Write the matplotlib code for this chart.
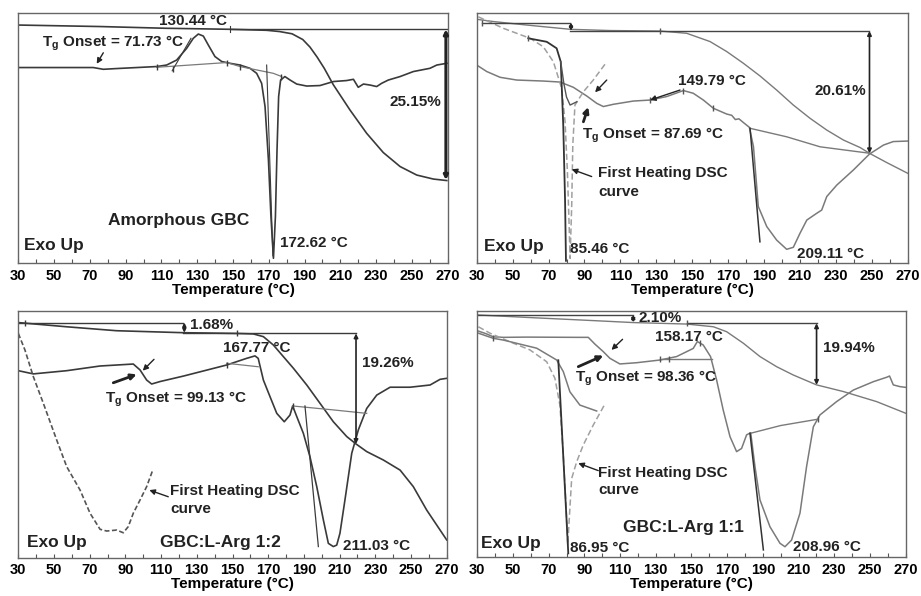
import matplotlib
matplotlib.use('Agg')
import matplotlib.pyplot as plt

plt.rcParams['font.family'] = ['Liberation Sans', 'DejaVu Sans']
plt.rcParams['font.weight'] = 'bold'
plt.rcParams['mathtext.fontset'] = 'custom'
plt.rcParams['mathtext.rm'] = 'Liberation Sans:bold'

# ---- panel 1: amorphous GBC ----
p1_tga_t = [30, 75.7, 112.9, 148.3, 168.8, 176, 183, 189, 193, 197, 201, 206, 215.4, 224.7, 234.0, 243.4, 252.7, 262.0, 269.5]
p1_tga_y = [95.3, 94.7, 94.0, 93.6, 93.2, 92.7, 91.8, 89.5, 86.5, 82.5, 78, 71.5, 61.3, 52.0, 44.3, 38.7, 35.3, 33.7, 33.1]
p1_dsc_t = [30, 57, 71.9, 77.5, 85, 107.3, 112.9, 118.5, 124.1, 127.8, 130.6, 133.4, 136.2, 139.9, 143.7, 148.3,
            153.9, 159.5, 163.2, 166, 167.9, 169.8, 171.2, 172.6, 173.7, 174.6, 175.5, 176.6, 179, 181.9, 185.6,
            191.2, 198.6, 206.1, 213.5, 217.3, 220, 222.9, 226.6, 230.3, 233.1, 236.8, 243.4, 250.8, 260.1, 263.9, 269.5]
p1_dsc_y = [78.3, 78.3, 78.3, 77.6, 77.9, 78.7, 79.3, 81.3, 86, 90, 91.7, 90.9, 87.3, 82.7, 80.7, 80,
            79.3, 78, 76, 72, 62.7, 41.3, 18.7, 2, 18.7, 45.3, 66.7, 73.3, 74.7, 73.3, 71.7,
            70.9, 71.1, 72.7, 73.1, 73.6, 70.4, 71.7, 71.3, 70.7, 72, 73.3, 74.7, 76.7, 78, 79.3, 80]
p1_base_t = [107.3, 146.5, 153.9, 172.5, 177.2]
p1_base_y = [78.4, 80.3, 78.7, 76, 74.7]

# ---- panel 2 ----
p2_tga_t = [30, 39.3, 57.8, 82, 104.2, 132.1, 146.9, 159.9, 169.2, 178.5, 187.8, 197, 206.3, 215.6, 224.9, 234.2, 243.5, 248.7, 258.3, 270]
p2_tga_y = [97.6, 96.7, 95.3, 93.6, 93.1, 92.9, 92, 88.7, 84.7, 80, 74.9, 69.3, 63.3, 58, 53.3, 49.3, 46.3, 44, 40.3, 36]
p2_dsc_t = [30, 35.6, 43, 52.3, 67.1, 76.4, 83.8, 91.3, 96.8, 100.5, 106.1, 117.2, 126.5, 135.8, 145.1, 150.6, 156.2, 161.8,
            169.2, 172, 174, 176, 178.5, 181.8, 184.1, 186.8, 191.5, 197, 202.6, 206.3, 210, 213.8, 219.3, 222.1, 224.9,
            230.5, 239.7, 248.7, 256.5, 262, 270]
p2_dsc_y = [79.3, 76.7, 74.4, 73.3, 72.9, 72.5, 70.4, 66.9, 64, 62.7, 63.6, 64.9, 65.3, 66.7, 69.1, 68, 65.3, 62,
            59.7, 59.2, 57.5, 57.8, 56.3, 54.4, 46.7, 22.7, 14.7, 9.3, 5.6, 6.4, 12, 17.3, 20, 21.3, 26.7,
            31.3, 37.3, 43.7, 47.3, 48.7, 48.9]
p2_first_t = [30.9, 44.8, 59.7, 67.1, 72.7, 77.3, 79.2, 80.5, 81.4, 82, 82.9, 83.5, 84.7, 89.4, 94.9, 101.4]
p2_first_y = [98.6, 94, 90, 86.6, 80.6, 70, 56.6, 36.6, 16.6, 2, 23.3, 47.3, 63.3, 68.6, 73.3, 79.6]
p2_solid_t = [58.7, 69, 74.5, 76.8, 78.2, 79.2, 79.7]
p2_solid_y = [90, 88.6, 86, 80.6, 55, 25, 1]
p2_shoulder_t = [76.8, 78.5, 80, 82, 85.7]
p2_shoulder_y = [80.6, 72, 66.5, 63.3, 64.6]
p2_base_t = [182.2, 202.6, 221.2, 249]
p2_base_y = [54, 50.6, 46.6, 44]

# ---- panel 3: GBC:L-Arg 1:2 ----
p3_tga_t = [30, 57.1, 85.1, 122.4, 152.3, 161.7, 167.3, 172.9, 178.5, 184.1, 191.6, 199, 206.5, 214, 219.2, 225.2, 234.5, 243.9, 251.3, 258.8, 270]
p3_tga_y = [95.3, 93.6, 92, 91.2, 90.9, 90.7, 89.6, 86.2, 81.5, 76.8, 70, 62.6, 55.1, 49.1, 46.1, 43, 39.6, 35.5, 28.8, 19.3, 7.2]
p3_dsc_t = [30, 38.4, 57.1, 75.8, 94.4, 98.2, 101.9, 104.7, 109.4, 122.4, 146.7, 157.9, 162.6, 164.4, 167.3, 171, 174.8, 179,
            182.2, 183.7, 186, 189.7, 193.4, 197.2, 200.9, 203.7, 206.5, 208.4, 210.2, 213, 216.8, 220.5, 225.2, 230.8,
            238.3, 249.5, 260.7, 266.3, 270]
p3_dsc_y = [75.8, 74.5, 75.8, 77.7, 78.5, 76.1, 72, 70.4, 71.4, 73.6, 78.1, 80.8, 81.8, 80.8, 72, 65.3, 58.5, 55.1,
            57.8, 61.5, 57.2, 50.4, 40.9, 28.8, 15.3, 5.8, 4.5, 5.1, 9.9, 23.4, 42.3, 51.8, 60.5, 65.9,
            69.1, 69.1, 70, 72.3, 72.7]
p3_first_t = [30, 33.7, 38.4, 44, 51.5, 57.1, 64.6, 70.2, 75.8, 79.5, 85.1, 88.8, 91.6, 94.4, 98.2, 101.9, 105.3]
p3_first_y = [90.9, 84.2, 73.4, 62.6, 47.7, 36.9, 27.4, 18, 11.5, 10.8, 11.2, 10.1, 12.6, 18, 23.4, 28.8, 35.5]
p3_base_t = [183.7, 206.5, 225.2]
p3_base_y = [61.5, 59.9, 58.5]

# ---- panel 4: GBC:L-Arg 1:1 ----
p4_tga_t = [30, 57.6, 95, 117.4, 147.3, 162.3, 169.7, 179.1, 188.4, 197.7, 207.1, 220.1, 235.1, 253.8, 270]
p4_tga_y = [98.4, 97.4, 96.1, 95.3, 94.7, 93.6, 91.6, 86.9, 81.5, 77.4, 74, 70, 67.3, 63.2, 58.5]
p4_dsc_t = [30, 35.2, 39, 44.6, 57.6, 85.7, 92.2, 96, 100.6, 104.3, 109.9, 119.3, 132.4, 141.7, 151, 153.3, 156.6, 160.7,
            164.1, 167.8, 171.6, 175.3, 178.1, 180.9, 183.2, 185.6, 188.4, 194, 199.6, 202.4, 206.1, 210.8, 214.5, 218.3,
            222, 231.3, 240.7, 251.9, 259.4, 261, 263.1, 266.8, 270]
p4_dsc_y = [92, 90.7, 89.5, 89.3, 89.4, 89.3, 89.3, 86.5, 83.5, 80.8, 78.5, 79, 80.1, 81.5, 84.8, 87.6, 86.2, 81.5,
            72, 59.8, 49, 42.9, 44.2, 49.7, 50.6, 36.8, 23.3, 12.4, 5.7, 4.3, 7, 17.9, 36.8, 53,
            57.8, 63.2, 67.9, 71.3, 73.1, 73.6, 70, 69.3, 69]
p4_first_t = [30.6, 37.1, 48.3, 59.5, 68.9, 73.5, 76.3, 78.2, 79.7, 80.7, 82, 82.9, 85.7, 89.4, 95, 101.5]
p4_first_y = [93.6, 91, 87.5, 84.2, 79.4, 72.7, 61.8, 41.5, 21.2, 5, 21.2, 32, 38.8, 45.6, 53.7, 62.2]
p4_solid_t = [30.6, 39, 44.6, 63.3, 74.5, 78.2, 81.9, 87.5, 96.9]
p4_solid_y = [91, 88.9, 88.2, 84.9, 80.1, 75.4, 67.2, 61.8, 59.4]
p4_base_t = [182.8, 200, 221.1]
p4_base_y = [50.3, 53.5, 56.1]

DARK = '#3a3a3a'
GRAY = '#7a7a7a'
LIGHT = '#a0a0a0'


def frame(ax):
    ax.set_xlim(30, 270)
    ax.set_ylim(0, 100)
    ax.set_xticks(range(30, 271, 20))
    ax.set_xticks(range(40, 271, 20), minor=True)
    ax.tick_params(axis='x', which='both', direction='in', length=3, width=0.8,
                   color='#555555', pad=4, labelsize=10.5)
    ax.set_yticks([])
    for sp in ax.spines.values():
        sp.set_color('#666666')
        sp.set_linewidth(1.0)
    ax.set_xlabel('Temperature (°C)', fontsize=11, fontweight='bold', labelpad=0)


def txt(ax, x, y, s, size=11, ha='left'):
    ax.text(x, y, s, fontsize=size, fontweight='bold', ha=ha, va='center', color='#222222')


def arrow(ax, x0, y0, x1, y1, lw=1.0, style='-|>', ms=8):
    ax.annotate('', xy=(x1, y1), xytext=(x0, y0),
                arrowprops=dict(arrowstyle=style, lw=lw, color='#222222', mutation_scale=ms,
                                shrinkA=0, shrinkB=0))


fig = plt.figure(figsize=(9.21, 5.96), dpi=100, facecolor='white')
ax1 = fig.add_axes([0.0199, 0.5582, 0.4662, 0.4195])
ax2 = fig.add_axes([0.5176, 0.5582, 0.4680, 0.4195])
ax3 = fig.add_axes([0.0199, 0.0643, 0.4651, 0.4139])
ax4 = fig.add_axes([0.5182, 0.0649, 0.4651, 0.4133])

# panel 1
ax1.plot(p1_tga_t, p1_tga_y, color=DARK, lw=1.2)
ax1.plot(p1_dsc_t, p1_dsc_y, color=DARK, lw=1.2)
ax1.plot(p1_base_t, p1_base_y, color=GRAY, lw=0.9)
ax1.plot([116, 126.5], [77, 90], color=DARK, lw=0.8)
ax1.plot([168.8, 172.3], [79.3, 3], color=DARK, lw=0.8)
ax1.plot([148.3, 270], [93.6, 93.6], color=DARK, lw=1.0)
ax1.plot([148.3, 148.3], [92.4, 94.8], color=DARK, lw=0.8)
ax1.plot([107.3, 116.6, 146.5, 153.9, 176.6], [78.4, 77.6, 80.3, 78.7, 74.7], '|', color=DARK, ms=5)
arrow(ax1, 269, 93.6, 269, 33.3, lw=2.2, style='<|-|>', ms=6)
txt(ax1, 127.8, 97.0, '130.44 °C', ha='center')
txt(ax1, 83.1, 88.0, 'T$_\\mathrm{g}$ Onset = 71.73 °C', ha='center')
arrow(ax1, 77.5, 84.2, 73.8, 79.8)
txt(ax1, 251.7, 64.7, '25.15%', ha='center')
txt(ax1, 119.4, 17.1, 'Amorphous GBC', size=12.5, ha='center')
txt(ax1, 33.2, 7.3, 'Exo Up', size=12.5)
txt(ax1, 176.3, 8.0, '172.62 °C')

# panel 2
ax2.plot(p2_tga_t, p2_tga_y, color=GRAY, lw=1.0)
ax2.plot(p2_dsc_t, p2_dsc_y, color=GRAY, lw=1.1)
ax2.plot(p2_first_t, p2_first_y, color=LIGHT, lw=1.1, ls=(0, (4, 2)))
ax2.plot(p2_solid_t, p2_solid_y, color='#333333', lw=1.3)
ax2.plot(p2_shoulder_t, p2_shoulder_y, color='#555555', lw=1.0)
ax2.plot(p2_base_t, p2_base_y, color=GRAY, lw=1.0)
ax2.plot([182.2, 187.7], [54, 8.6], color='#333333', lw=1.1)
ax2.plot([32.8, 82], [96.3, 96.3], color='#444444', lw=1.0)
ax2.plot([82, 248.7], [92.9, 92.9], color='#444444', lw=1.0)
ax2.plot([32.8, 58.7, 126.5, 132.1, 145.1, 161.8], [96.3, 90, 65.3, 92.9, 69.1, 62], '|', color='#555555', ms=5)
arrow(ax2, 82.5, 96.3, 82.5, 93.0, lw=1.2, style='<|-|>', ms=5)
arrow(ax2, 248.7, 92.9, 248.7, 44, lw=1.2, style='<|-|>', ms=6)
txt(ax2, 232.3, 69.0, '20.61%', ha='center')
txt(ax2, 160.9, 73.0, '149.79 °C', ha='center')
arrow(ax2, 143.2, 69.3, 126.5, 65.3)
txt(ax2, 128.4, 51.3, 'T$_\\mathrm{g}$ Onset = 87.69 °C', ha='center')
arrow(ax2, 89.4, 56.6, 92.1, 62.5, lw=2.0)
arrow(ax2, 102.4, 73.3, 95.9, 68.4)
txt(ax2, 97.7, 36.0, 'First Heating DSC')
txt(ax2, 97.7, 28.7, 'curve')
arrow(ax2, 94.0, 34.7, 82.9, 37.6)
txt(ax2, 34.1, 6.9, 'Exo Up', size=12.5)
txt(ax2, 82.0, 5.6, '85.46 °C')
txt(ax2, 208.2, 3.7, '209.11 °C')

# panel 3
ax3.plot(p3_tga_t, p3_tga_y, color=DARK, lw=1.2)
ax3.plot(p3_dsc_t, p3_dsc_y, color=DARK, lw=1.2)
ax3.plot(p3_first_t, p3_first_y, color='#555555', lw=1.2, ls=(0, (3, 1.5)))
ax3.plot(p3_base_t, p3_base_y, color=GRAY, lw=0.9)
ax3.plot([146.7, 164.4], [78.8, 77.4], color=GRAY, lw=0.9)
ax3.plot([190.6, 198.1], [61.5, 4.5], color=DARK, lw=0.9)
ax3.plot([30, 122.4], [95.3, 95.3], color=DARK, lw=1.0)
ax3.plot([122.4, 219.2], [90.9, 90.9], color=DARK, lw=1.0)
ax3.plot([33.7, 146.7, 152.3, 183.7], [95.3, 78.1, 90.9, 61.5], '|', color=DARK, ms=5)
arrow(ax3, 123.0, 95.3, 123.0, 91.2, lw=1.2, style='<|-|>', ms=5)
arrow(ax3, 219.2, 90.9, 219.2, 46.1, lw=1.2, style='<|-|>', ms=6)
txt(ax3, 126.2, 94.3, '1.68%')
txt(ax3, 222.4, 78.8, '19.26%')
txt(ax3, 144.9, 84.9, '167.77 °C')
txt(ax3, 118.7, 64.2, 'T$_\\mathrm{g}$ Onset = 99.13 °C', ha='center')
arrow(ax3, 83.2, 70.9, 96.3, 74.3, lw=2.0)
arrow(ax3, 106.0, 80.4, 99.7, 75.8)
txt(ax3, 115.0, 27.2, 'First Heating DSC')
txt(ax3, 115.0, 19.6, 'curve')
arrow(ax3, 114.0, 24.7, 103.4, 27.4)
txt(ax3, 34.7, 6.1, 'Exo Up', size=12.5)
txt(ax3, 143.0, 6.1, 'GBC:L-Arg 1:2', size=12.5, ha='center')
txt(ax3, 212.1, 4.7, '211.03 °C')

# panel 4
ax4.plot(p4_tga_t, p4_tga_y, color=GRAY, lw=1.0)
ax4.plot(p4_dsc_t, p4_dsc_y, color=GRAY, lw=1.1)
ax4.plot(p4_first_t, p4_first_y, color=LIGHT, lw=1.1, ls=(0, (4, 2)))
ax4.plot(p4_solid_t, p4_solid_y, color=GRAY, lw=1.1)
ax4.plot([75.4, 81], [80, 1.6], color='#333333', lw=1.3)
ax4.plot(p4_base_t, p4_base_y, color=GRAY, lw=1.0)
ax4.plot([182.8, 190.3], [50.3, 3], color='#333333', lw=1.1)
ax4.plot([132.4, 161.3], [80.4, 80.4], color=GRAY, lw=1.0)
ax4.plot([30, 117.4], [98.4, 98.4], color='#444444', lw=1.0)
ax4.plot([147.3, 220.1], [95, 95], color='#444444', lw=1.0)
ax4.plot([39, 132.4, 137.6, 147.3, 155.0, 221.1], [88.9, 80.4, 80.4, 95, 87.0, 56.1], '|', color='#555555', ms=5)
arrow(ax4, 117.4, 98.4, 117.4, 95.4, lw=1.2, style='<|-|>', ms=5)
arrow(ax4, 220.1, 95, 220.1, 70, lw=1.2, style='<|-|>', ms=6)
txt(ax4, 120.2, 97.0, '2.10%')
txt(ax4, 223.5, 84.8, '19.94%')
txt(ax4, 129.5, 89.6, '158.17 °C')
txt(ax4, 124.9, 72.7, 'T$_\\mathrm{g}$ Onset = 98.36 °C', ha='center')
arrow(ax4, 86.6, 77.4, 100.6, 81.9, lw=2.0)
arrow(ax4, 111.4, 88.5, 105.2, 84.2)
txt(ax4, 97.8, 34.4, 'First Heating DSC')
txt(ax4, 97.8, 27.3, 'curve')
arrow(ax4, 97.8, 35.2, 86.6, 38.2)
txt(ax4, 145.4, 12.0, 'GBC:L-Arg 1:1', size=12.5, ha='center')
txt(ax4, 31.9, 5.7, 'Exo Up', size=12.5)
txt(ax4, 81.9, 3.7, '86.95 °C')
txt(ax4, 207.0, 4.1, '208.96 °C')

for ax in (ax1, ax2, ax3, ax4):
    frame(ax)

fig.savefig('out.png', dpi=100, facecolor='white')
